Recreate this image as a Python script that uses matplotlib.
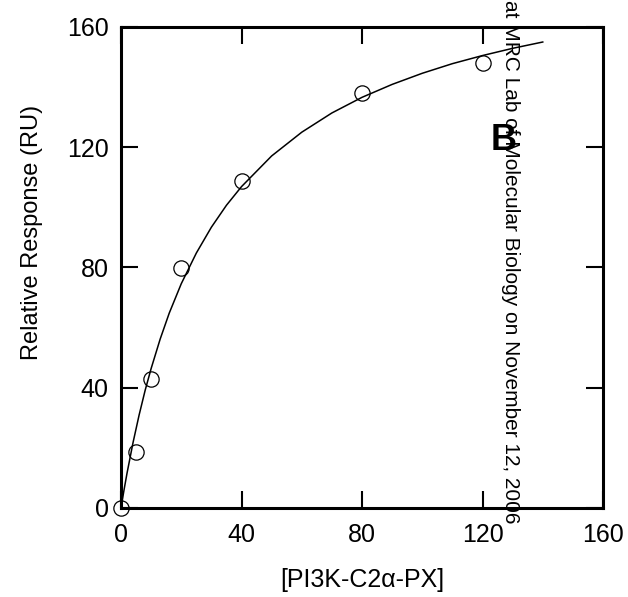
import numpy as np
import matplotlib.pyplot as plt

plt.rcParams['font.family'] = ['Liberation Sans', 'DejaVu Sans']

# measured points
conc = [0, 5, 10, 20, 40, 80, 120]
resp = [0, 18.7, 42.8, 79.8, 108.8, 138, 148]

# fitted curve
fit_x = [0, 1, 2, 4, 6, 8, 10, 13, 16, 20, 25, 30, 35, 40, 50, 60, 70,
         80, 90, 100, 110, 120, 130, 140]
fit_y = [0, 6.0, 11.6, 21.8, 30.9, 39.1, 46.4, 56.2, 64.8, 74.6, 84.8,
         93.4, 100.7, 106.9, 117.1, 125.0, 131.4, 136.6, 140.9, 144.6,
         147.8, 150.5, 152.9, 155.0]

ticks = [0, 40, 80, 120, 160]

fig = plt.figure(figsize=(6.28, 5.97), dpi=100)
ax = fig.add_axes([0.1927, 0.1491, 0.7675, 0.8057])

ax.plot(fit_x, fit_y, color='black', lw=1.1)
ax.plot(conc, resp, 'o', ms=11, mfc='none', mec='black', mew=0.9,
        clip_on=False)

ax.set_xlim(0, 160)
ax.set_ylim(0, 160)
ax.set_xticks(ticks)
ax.set_yticks(ticks)
for s in ax.spines.values():
    s.set_linewidth(2.2)
ax.tick_params(direction='in', length=12, width=1.5, top=True, right=True,
               labelsize=18)
ax.tick_params(axis='x', pad=11)
ax.tick_params(axis='y', pad=9)

ax.set_xlabel('[PI3K-C2\u03b1-PX]', fontsize=18)
ax.set_ylabel('Relative Response (RU)', fontsize=17)
ax.xaxis.set_label_coords(0.5, -0.124)
ax.yaxis.set_label_coords(-0.162, 0.572)

# journal watermark and panel letter
fig.text(510 / 628, 1.0, 'at MRC Lab of Molecular Biology on November 12, 2006',
         rotation=-90, ha='center', va='top', fontsize=15)
fig.text(504 / 628, 1 - 140 / 597, 'B', fontsize=26, fontweight='bold',
         ha='center', va='center')

fig.savefig('out.png', dpi=100)
